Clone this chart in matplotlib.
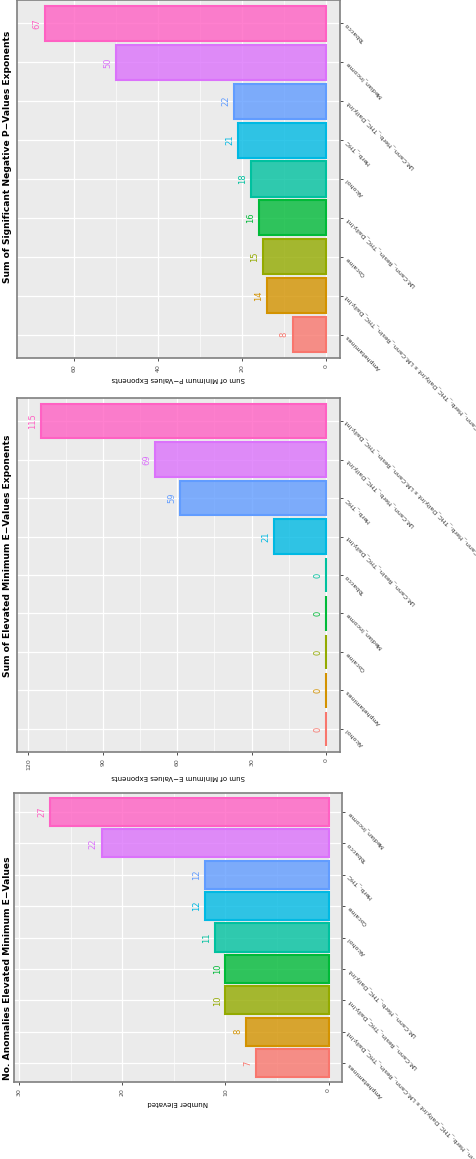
import matplotlib.pyplot as plt
import numpy as np
from matplotlib.colors import to_rgba

# category names
HERB = 'LM.Cann._Herb._THC_Daily.Int'
RESIN = 'LM.Cann._Resin._THC_Daily.Int'
INTX = 'LM.Cann._Herb._THC_Daily.Int x LM.Cann._Resin._THC_Daily.Int'

# panel 1 (top): P-values
p_cats = ['Amphetamines', INTX, 'Cocaine', RESIN, 'Alcohol', 'Herb._THC', HERB, 'Median_Income', 'Tobacco']
p_vals = [8, 14, 15, 16, 18, 21, 22, 50, 67]

# panel 2 (middle): E-values exponents
e_cats = ['Alcohol', 'Amphetamines', 'Cocaine', 'Median_Income', 'Tobacco', RESIN, 'Herb._THC', HERB, INTX]
e_vals = [0, 0, 0, 0, 0, 21, 59, 69, 115]

# panel 3 (bottom): number elevated
n_cats = ['Amphetamines', INTX, RESIN, HERB, 'Alcohol', 'Cocaine', 'Herb._THC', 'Tobacco', 'Median_Income']
n_vals = [7, 8, 10, 10, 11, 12, 12, 22, 27]

hues = ['#F8766D', '#D39200', '#93AA00', '#00BA38', '#00C19F', '#00B9E3', '#619CFF', '#DB72FB', '#FF61C3']

W, H = 477, 1159
fig = plt.figure(figsize=(W / 100, H / 100), dpi=100)

panels = [
    # cats, vals, title, ylabel, ticks, xlim, px box (x0, x1, ytop, ybot), title start px
    (p_cats, p_vals, 'Sum of Significant Negative P\u2212Values Exponents', 'Sum of Minimum P\u2212Values Exponents',
     [0, 20, 40, 60], (73.6, -3.3), (17, 340, 0, 358), 283),
    (e_cats, e_vals, 'Sum of Elevated Minimum E\u2212Values Exponents', 'Sum of Minimum E\u2212Values Exponents',
     [0, 30, 60, 90, 120], (124.6, -5.6), (17, 340, 398, 752), 677),
    (n_cats, n_vals, 'No. Anomalies Elevated Minimum E\u2212Values', 'Number Elevated',
     [0, 10, 20, 30], (30.5, -1.3), (14, 342, 793, 1082), 1080),
]

for cats, vals, title, ylab, ticks, xlim, (x0, x1, yt, yb), tstart in panels:
    ax = fig.add_axes([x0 / W, 1 - yb / H, (x1 - x0) / W, (yb - yt) / H])
    ax.set_facecolor('#EBEBEB')
    y = np.arange(len(cats))
    fills = [to_rgba(c, 0.8) for c in hues]
    ax.barh(y, vals, height=0.9, color=fills, edgecolor=hues, linewidth=1.5, zorder=2)
    for yi, v, c in zip(y, vals, hues):
        ax.annotate(str(v), (v, yi), xytext=(-6, 0), textcoords='offset points',
                    rotation=90, ha='center', va='center', fontsize=6, color=c, zorder=3)
    ax.set_xlim(*xlim)
    ax.set_ylim(-0.6, len(cats) - 0.4)
    ax.set_xticks(ticks)
    ax.set_xticks([(a + b) / 2 for a, b in zip(ticks[:-1], ticks[1:])], minor=True)
    ax.set_xticklabels([str(t) for t in ticks], rotation=90, fontsize=4.5, color='#4D4D4D')
    ax.tick_params(axis='x', which='minor', length=0)
    ax.tick_params(axis='both', which='major', length=2.5, width=0.6, color='#333333', pad=2)
    ax.yaxis.tick_right()
    ax.set_yticks(y)
    ax.set_yticklabels(cats, rotation=135, rotation_mode='anchor', ha='right', va='center',
                       fontsize=4.5, color='#333333')
    ax.grid(True, which='major', color='white', linewidth=0.9, zorder=0)
    ax.grid(True, which='minor', axis='x', color='white', linewidth=0.45, zorder=0)
    ax.set_axisbelow(True)
    ax.set_xlabel(ylab, rotation=180, fontsize=5, labelpad=3)
    for s in ax.spines.values():
        s.set_color('#7F7F7F')
        s.set_linewidth(1.2)
    fig.text(7 / W, 1 - tstart / H, title, rotation=90, rotation_mode='anchor',
             ha='left', va='center', fontsize=6.6, fontweight='bold')

fig.savefig('out.png', dpi=100)
